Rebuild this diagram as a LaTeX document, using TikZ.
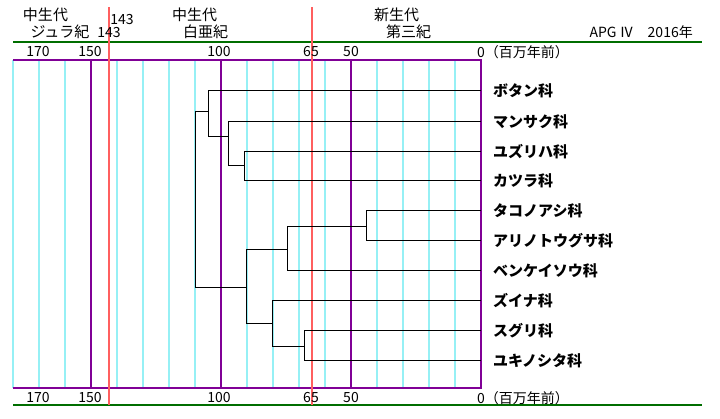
\documentclass[tikz,border=0pt]{standalone}
\usepackage{fontspec}
\setmainfont{Noto Sans CJK JP}
\definecolor{gridc}{RGB}{150,240,245}
\definecolor{purp}{RGB}{128,0,150}
\definecolor{redl}{RGB}{255,95,95}
\definecolor{axg}{RGB}{0,110,0}
\begin{document}
\begin{tikzpicture}[x=1pt,y=-1pt,
  gridline/.style={gridc,line width=1.1pt},
  purpline/.style={purp,line width=1.2pt},
  redline/.style={redl,line width=1.1pt},
  greenline/.style={axg,line width=1.2pt},
  tree/.style={black,line width=1.3pt},
  leaf/.style={anchor=west,inner sep=0pt,font=\fontsize{15}{15}\selectfont\bfseries},
  hdr/.style={inner sep=0pt,font=\fontsize{15}{15}\selectfont},
  num/.style={inner sep=0pt,font=\fontsize{14}{14}\selectfont}]
\useasboundingbox (0,0) rectangle (720,418);
% grid
\foreach \m in {10,20,30,40,60,70,80,90,110,120,130,140,160,170,180}
  \draw[gridline] ({481-2.6*\m},60) -- ({481-2.6*\m},388);
\foreach \m in {0,50,100,150}
  \draw[purpline] ({481-2.6*\m},60) -- ({481-2.6*\m},388);
\draw[purpline] (13,60) -- (481.5,60);
\draw[purpline] (13,388) -- (481.5,388);
\draw[greenline] (13,42) -- (702,42);
\draw[greenline] (13,405) -- (702,405);
\draw[redline] (109,7) -- (109,405);
\draw[redline] (312,7) -- (312,405);
% header
\node[hdr] (h1) at (45.5,15) {中生代};
\node[hdr] (h2) at (60,32) {ジュラ紀};
\node[num] (h3) at (122,20) {143};
\node[num] (h4) at (109,33) {143};
\node[hdr] (h5) at (194.5,15) {中生代};
\node[hdr] (h6) at (205.5,32) {白亜紀};
\node[hdr] (h7) at (396.5,15) {新生代};
\node[hdr] (h8) at (408.5,32) {第三紀};
\node[num,anchor=east] (h9) at (693,32) {APG Ⅳ　2016年};
% axis labels
\foreach \y/\s in {52/t,398/b}{
  \node[num] (a170\s) at (38,\y) {170};
  \node[num] (a150\s) at (90,\y) {150};
  \node[num] (a100\s) at (219,\y) {100};
  \node[num] (a65\s) at (311,\y) {65};
  \node[num] (a50\s) at (351,\y) {50};
  \node[num,anchor=west] (a0\s) at (477,\y) {0（百万年前）};
}
% leaves
\foreach \i/\y/\t in {1/90.3/ボタン科,2/121.3/マンサク科,3/151.3/ユズリハ科,4/180.3/カツラ科,5/210.3/タコノアシ科,6/240.3/アリノトウグサ科,7/270.3/ベンケイソウ科,8/300.3/ズイナ科,9/330.3/スグリ科,10/360.3/ユキノシタ科}{
  \coordinate (t\i) at (481,\y);
  \node[leaf] (l\i) at (493,\y) {\t};
}
% internal nodes
\coordinate (nR) at (195.3,200);
\coordinate (nA) at (208.3,111.3);
\coordinate (nB) at (228.7,136.3);
\coordinate (nC) at (244.3,165.3);
\coordinate (nD) at (246.7,287.3);
\coordinate (nE) at (287.3,249.3);
\coordinate (nH) at (366.3,226.3);
\coordinate (nF) at (272.3,323.3);
\coordinate (nG) at (304.3,346.3);
\draw[tree] (nA) -| (nR) |- (nD);
\draw[tree] (t1) -| (nA) |- (nB);
\draw[tree] (t2) -| (nB) |- (nC);
\draw[tree] (t3) -| (nC) |- (t4);
\draw[tree] (nE) -| (nD) |- (nF);
\draw[tree] (nH) -| (nE) |- (t7);
\draw[tree] (t5) -| (nH) |- (t6);
\draw[tree] (t8) -| (nF) |- (nG);
\draw[tree] (t9) -| (nG) |- (t10);
\end{tikzpicture}
\end{document}
